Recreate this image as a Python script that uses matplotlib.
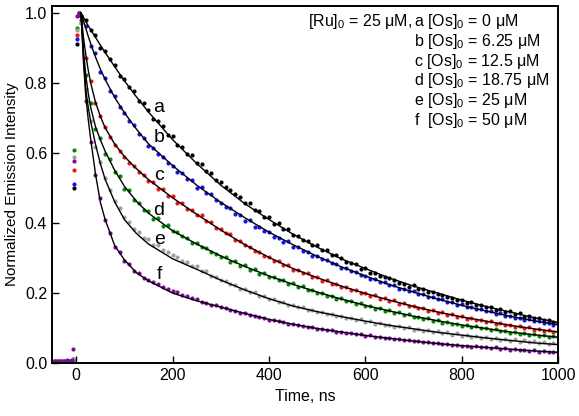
import numpy as np
import matplotlib
matplotlib.use('Agg')
import matplotlib.pyplot as plt

plt.rcParams['font.family'] = ['Liberation Sans', 'DejaVu Sans']
plt.rcParams['mathtext.fontset'] = 'custom'
plt.rcParams['mathtext.rm'] = 'Liberation Sans'
plt.rcParams['mathtext.it'] = 'Liberation Sans:italic'

# time axis of the sampled decay points (ns)
t_pre = [-50, -44, -38, -32, -26, -20, -14, -9, -6, -4, 1, 6]
t_data = list(range(10, 1001, 10))

# points before/around the laser pulse
pre_a = [0.004, 0.006, 0.003, 0.005, 0.004, 0.006, 0.005, 0.007, 0.010, 0.500, 0.911, 1.000]
pre_b = [0.005, 0.004, 0.006, 0.003, 0.005, 0.004, 0.006, 0.005, 0.010, 0.511, 0.925, 1.000]
pre_c = [0.003, 0.005, 0.004, 0.006, 0.003, 0.005, 0.004, 0.006, 0.012, 0.551, 0.937, 1.000]
pre_d = [0.006, 0.004, 0.005, 0.003, 0.006, 0.004, 0.005, 0.004, 0.011, 0.609, 0.957, 1.000]
pre_e = [0.004, 0.005, 0.003, 0.006, 0.004, 0.005, 0.003, 0.006, 0.012, 0.589, 0.950, 1.000]
pre_f = [0.004, 0.006, 0.005, 0.007, 0.005, 0.008, 0.006, 0.009, 0.040, 0.577, 0.990, 1.000]

# measured decays, 10 ns steps from 10 to 1000 ns
dec_a = [0.990, 0.980, 0.950, 0.936, 0.900, 0.892, 0.868, 0.852, 0.820, 0.812,
         0.788, 0.778, 0.748, 0.742, 0.722, 0.698, 0.692, 0.676, 0.652, 0.648,
         0.624, 0.618, 0.598, 0.594, 0.572, 0.568, 0.548, 0.544, 0.522, 0.518,
         0.502, 0.494, 0.482, 0.474, 0.458, 0.457, 0.438, 0.434, 0.418, 0.418,
         0.398, 0.399, 0.382, 0.384, 0.366, 0.363, 0.352, 0.348, 0.338, 0.337,
         0.322, 0.323, 0.308, 0.308, 0.300, 0.288, 0.287, 0.282, 0.268, 0.272,
         0.258, 0.257, 0.248, 0.247, 0.243, 0.236, 0.228, 0.227, 0.218, 0.223,
         0.213, 0.211, 0.203, 0.202, 0.198, 0.196, 0.188, 0.187, 0.181, 0.181,
         0.173, 0.175, 0.166, 0.167, 0.161, 0.160, 0.153, 0.154, 0.146, 0.148,
         0.140, 0.142, 0.133, 0.135, 0.128, 0.129, 0.122, 0.122, 0.117, 0.117]
dec_b = [0.990, 0.962, 0.906, 0.884, 0.832, 0.814, 0.776, 0.764, 0.730, 0.714,
         0.690, 0.679, 0.655, 0.644, 0.620, 0.613, 0.596, 0.588, 0.571, 0.564,
         0.545, 0.543, 0.525, 0.523, 0.500, 0.503, 0.485, 0.483, 0.465, 0.458,
         0.445, 0.443, 0.425, 0.423, 0.405, 0.408, 0.390, 0.388, 0.376, 0.373,
         0.361, 0.358, 0.346, 0.348, 0.331, 0.333, 0.321, 0.318, 0.307, 0.307,
         0.297, 0.294, 0.285, 0.282, 0.272, 0.272, 0.262, 0.260, 0.251, 0.250,
         0.241, 0.240, 0.231, 0.231, 0.222, 0.222, 0.213, 0.213, 0.205, 0.205,
         0.198, 0.197, 0.190, 0.190, 0.182, 0.182, 0.175, 0.175, 0.167, 0.168,
         0.161, 0.161, 0.154, 0.154, 0.148, 0.148, 0.141, 0.142, 0.135, 0.136,
         0.129, 0.130, 0.124, 0.125, 0.119, 0.120, 0.114, 0.115, 0.110, 0.111]
dec_c = [0.980, 0.872, 0.806, 0.744, 0.706, 0.674, 0.646, 0.624, 0.606, 0.588,
         0.571, 0.562, 0.546, 0.538, 0.521, 0.518, 0.498, 0.497, 0.477, 0.478,
         0.457, 0.458, 0.441, 0.438, 0.422, 0.423, 0.406, 0.403, 0.387, 0.383,
         0.371, 0.368, 0.351, 0.348, 0.336, 0.333, 0.321, 0.318, 0.306, 0.303,
         0.292, 0.292, 0.280, 0.279, 0.267, 0.267, 0.257, 0.256, 0.245, 0.246,
         0.235, 0.236, 0.226, 0.227, 0.217, 0.218, 0.208, 0.209, 0.200, 0.201,
         0.192, 0.194, 0.184, 0.186, 0.177, 0.179, 0.170, 0.172, 0.163, 0.164,
         0.157, 0.158, 0.150, 0.151, 0.144, 0.145, 0.138, 0.139, 0.133, 0.134,
         0.127, 0.129, 0.123, 0.124, 0.118, 0.120, 0.113, 0.115, 0.108, 0.110,
         0.104, 0.106, 0.100, 0.102, 0.096, 0.098, 0.093, 0.094, 0.089, 0.091]
dec_d = [0.970, 0.822, 0.744, 0.668, 0.642, 0.598, 0.583, 0.547, 0.533, 0.497,
         0.493, 0.467, 0.458, 0.437, 0.433, 0.412, 0.413, 0.392, 0.393, 0.377,
         0.373, 0.362, 0.358, 0.342, 0.343, 0.332, 0.328, 0.317, 0.313, 0.302,
         0.303, 0.290, 0.291, 0.277, 0.279, 0.267, 0.268, 0.255, 0.257, 0.246,
         0.247, 0.237, 0.237, 0.227, 0.228, 0.218, 0.219, 0.209, 0.210, 0.200,
         0.201, 0.192, 0.193, 0.184, 0.185, 0.177, 0.178, 0.169, 0.171, 0.162,
         0.164, 0.156, 0.158, 0.149, 0.151, 0.143, 0.145, 0.137, 0.139, 0.131,
         0.133, 0.126, 0.128, 0.121, 0.123, 0.116, 0.118, 0.111, 0.113, 0.107,
         0.109, 0.103, 0.105, 0.099, 0.101, 0.095, 0.097, 0.091, 0.093, 0.087,
         0.089, 0.084, 0.086, 0.081, 0.083, 0.078, 0.080, 0.075, 0.077, 0.074]
dec_e = [0.970, 0.782, 0.692, 0.618, 0.574, 0.528, 0.494, 0.462, 0.444, 0.418,
         0.404, 0.383, 0.374, 0.358, 0.354, 0.338, 0.338, 0.323, 0.318, 0.308,
         0.303, 0.293, 0.288, 0.278, 0.277, 0.263, 0.262, 0.248, 0.247, 0.238,
         0.234, 0.226, 0.224, 0.213, 0.212, 0.203, 0.202, 0.193, 0.192, 0.183,
         0.183, 0.174, 0.174, 0.166, 0.166, 0.159, 0.159, 0.152, 0.152, 0.145,
         0.146, 0.139, 0.141, 0.134, 0.135, 0.128, 0.130, 0.123, 0.125, 0.118,
         0.120, 0.113, 0.115, 0.108, 0.110, 0.104, 0.106, 0.100, 0.102, 0.096,
         0.098, 0.092, 0.094, 0.088, 0.091, 0.085, 0.088, 0.081, 0.085, 0.078,
         0.081, 0.075, 0.078, 0.072, 0.076, 0.069, 0.073, 0.066, 0.070, 0.063,
         0.068, 0.061, 0.066, 0.059, 0.063, 0.057, 0.061, 0.055, 0.058, 0.054]
dec_f = [0.990, 0.748, 0.632, 0.538, 0.472, 0.408, 0.372, 0.333, 0.317, 0.293,
         0.282, 0.263, 0.257, 0.243, 0.237, 0.232, 0.227, 0.217, 0.212, 0.207,
         0.202, 0.196, 0.192, 0.185, 0.182, 0.175, 0.173, 0.167, 0.165, 0.159,
         0.157, 0.152, 0.150, 0.144, 0.143, 0.138, 0.136, 0.131, 0.129, 0.124,
         0.123, 0.119, 0.118, 0.113, 0.112, 0.108, 0.107, 0.103, 0.102, 0.098,
         0.098, 0.094, 0.094, 0.090, 0.090, 0.086, 0.086, 0.082, 0.082, 0.078,
         0.079, 0.075, 0.075, 0.072, 0.072, 0.068, 0.069, 0.065, 0.066, 0.062,
         0.063, 0.059, 0.060, 0.057, 0.058, 0.054, 0.056, 0.052, 0.053, 0.049,
         0.050, 0.047, 0.048, 0.045, 0.046, 0.043, 0.045, 0.041, 0.043, 0.039,
         0.040, 0.037, 0.039, 0.035, 0.037, 0.033, 0.035, 0.032, 0.033, 0.031]

# fitted curves
t_fit = [10, 15, 20, 25, 30, 40, 50, 60, 80, 100, 125, 150, 200, 250, 300, 350,
         400, 450, 500, 550, 600, 650, 700, 750, 800, 850, 900, 950, 1000]
fit_a = [1.0, 0.987, 0.975, 0.963, 0.952, 0.930, 0.908, 0.887, 0.846, 0.806, 0.760,
         0.717, 0.638, 0.570, 0.508, 0.455, 0.410, 0.368, 0.331, 0.298, 0.270,
         0.243, 0.220, 0.200, 0.180, 0.162, 0.146, 0.130, 0.116]
fit_b = [1.0, 0.977, 0.955, 0.933, 0.912, 0.874, 0.840, 0.810, 0.758, 0.715, 0.668,
         0.626, 0.564, 0.508, 0.459, 0.415, 0.374, 0.338, 0.305, 0.275, 0.249,
         0.224, 0.203, 0.183, 0.165, 0.149, 0.134, 0.121, 0.110]
fit_c = [1.0, 0.930, 0.880, 0.836, 0.800, 0.745, 0.705, 0.672, 0.625, 0.590, 0.555,
         0.524, 0.472, 0.425, 0.380, 0.338, 0.302, 0.270, 0.244, 0.220, 0.199,
         0.180, 0.162, 0.146, 0.132, 0.120, 0.108, 0.098, 0.089]
fit_d = [1.0, 0.895, 0.820, 0.770, 0.730, 0.675, 0.638, 0.605, 0.550, 0.505, 0.462,
         0.428, 0.378, 0.340, 0.306, 0.276, 0.249, 0.225, 0.203, 0.183, 0.165,
         0.149, 0.134, 0.121, 0.109, 0.099, 0.089, 0.081, 0.074]
fit_e = [1.0, 0.875, 0.780, 0.730, 0.690, 0.625, 0.570, 0.525, 0.460, 0.410, 0.370,
         0.340, 0.298, 0.268, 0.237, 0.209, 0.184, 0.163, 0.147, 0.133, 0.120,
         0.108, 0.098, 0.088, 0.080, 0.072, 0.065, 0.058, 0.053]
fit_f = [1.0, 0.860, 0.760, 0.695, 0.640, 0.540, 0.460, 0.410, 0.335, 0.295, 0.258,
         0.235, 0.200, 0.178, 0.160, 0.142, 0.125, 0.111, 0.099, 0.089, 0.079,
         0.071, 0.063, 0.056, 0.050, 0.045, 0.040, 0.035, 0.031]

colors = ['black', '#1414f0', '#f01414', '#008c00', '#a0a0a0', '#7d0a9b']
pre = [pre_a, pre_b, pre_c, pre_d, pre_e, pre_f]
decays = [dec_a, dec_b, dec_c, dec_d, dec_e, dec_f]
fits = [fit_a, fit_b, fit_c, fit_d, fit_e, fit_f]
letters = ['a', 'b', 'c', 'd', 'e', 'f']
letter_y = [0.731, 0.643, 0.537, 0.437, 0.354, 0.254]

legend_head = '[Ru]$_0$ = 25 μM,'
legend_lines = ['a [Os]$_0$ = 0 μM', 'b [Os]$_0$ = 6.25 μM', 'c [Os]$_0$ = 12.5 μM',
                'd [Os]$_0$ = 18.75 μM', 'e [Os]$_0$ = 25 μM', 'f  [Os]$_0$ = 50 μM']
legend_y = [0.975, 0.918, 0.861, 0.806, 0.749, 0.692]

fig, ax = plt.subplots(figsize=(5.79, 4.16), dpi=100)
fig.subplots_adjust(left=0.09, right=0.964, top=0.986, bottom=0.127)

for p, d, c in zip(pre, decays, colors):
    ax.plot(t_pre + t_data, p + d, 'o', color=c, ms=3.0, mec='none')
for f in fits:
    ax.plot(t_fit, f, color='black', lw=1.0)

for l, y in zip(letters, letter_y):
    ax.text(172, y, l, fontsize=14, ha='center', va='center')

ax.text(697, legend_y[0], legend_head, fontsize=11.5, ha='right', va='center')
for s, y in zip(legend_lines, legend_y):
    ax.text(701, y, s, fontsize=11.5, ha='left', va='center')

ax.set_xlim(-50, 1000)
ax.set_ylim(0, 1.02)
ax.set_xticks(range(0, 1001, 200))
ax.set_yticks(np.arange(0, 1.01, 0.2))
ax.set_yticklabels(['0.0', '0.2', '0.4', '0.6', '0.8', '1.0'])
ax.tick_params(direction='in', length=5, width=1, labelsize=11.5)
for s in ax.spines.values():
    s.set_linewidth(1.4)
ax.set_xlabel('Time, ns', fontsize=11.5)
ax.set_ylabel('Normalized Emission Intensity', fontsize=11)

plt.savefig('out.png', dpi=100)
plt.close()
